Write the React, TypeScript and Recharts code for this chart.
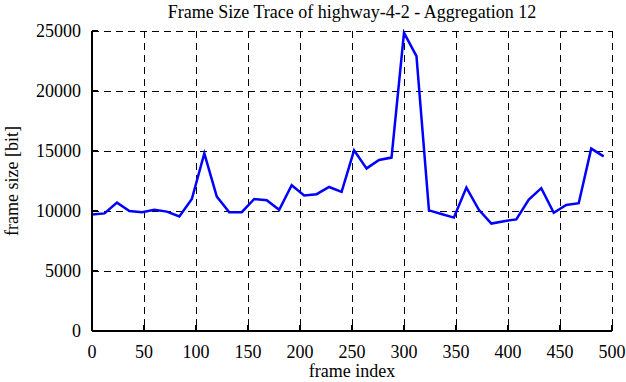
import React from "react";
import { LineChart, Line, XAxis, YAxis, CartesianGrid, Label } from "recharts";

// aggregated frame sizes, one point every 12 frames
const frameIndex = [
  0, 12, 24, 36, 48, 60, 72, 84, 96, 108, 120, 132, 144, 156, 168, 180, 192, 204, 216, 228, 240,
  252, 264, 276, 288, 300, 312, 324, 336, 348, 360, 372, 384, 396, 408, 420, 432, 444, 456, 468, 480, 492,
];
const frameSize = [
  9700, 9800, 10700, 10000, 9900, 10100, 9950, 9550, 11000, 14800, 11200, 9900, 9900, 11000, 10900, 10100,
  12150, 11300, 11400, 12000, 11600, 15050, 13550, 14250, 14450, 24850, 22900, 10050, 9750, 9450, 11950,
  10100, 8950, 9150, 9300, 10950, 11900, 9850, 10500, 10650, 15200, 14550,
];
const xTicks = [0, 50, 100, 150, 200, 250, 300, 350, 400, 450, 500];
const yTicks = [0, 5000, 10000, 15000, 20000, 25000];

const data = frameIndex.map((x, i) => ({ x, size: frameSize[i] }));

const FONT = '"Liberation Serif", "Times New Roman", serif';
const tickStyle = { fill: "#000", fontSize: 18, fontFamily: FONT };
const lineStyle = { stroke: "#000", strokeWidth: 2 };

export default function App() {
  return (
    <div style={{ position: "absolute", left: 0, top: 0, width: 626, height: 382, background: "#fff" }}>
      <div
        style={{
          position: "absolute",
          left: 92,
          width: 520,
          top: 0,
          textAlign: "center",
          fontFamily: FONT,
          fontSize: 18,
          lineHeight: "24px",
        }}
      >
        Frame Size Trace of highway-4-2 - Aggregation 12
      </div>
      <LineChart width={626} height={382} data={data} margin={{ top: 31, right: 14, left: 0, bottom: 0 }}>
        <CartesianGrid stroke="#000" strokeDasharray="7 5" strokeWidth={1} shapeRendering="crispEdges" />
        <XAxis
          dataKey="x"
          type="number"
          domain={[0, 500]}
          ticks={xTicks}
          interval={0}
          height={51}
          tickSize={-6}
          tickMargin={20}
          axisLine={lineStyle}
          tickLine={lineStyle}
          tick={tickStyle}
        >
          <Label value="frame index" position="insideBottom" offset={5} style={{ fill: "#000", fontSize: 18, fontFamily: FONT }} />
        </XAxis>
        <XAxis
          xAxisId="top"
          orientation="top"
          type="number"
          domain={[0, 500]}
          ticks={xTicks}
          interval={0}
          height={0}
          tickSize={-6}
          axisLine={lineStyle}
          tickLine={lineStyle}
          tick={false}
        />
        <YAxis
          domain={[0, 25000]}
          ticks={yTicks}
          interval={0}
          width={92}
          tickSize={-6}
          tickMargin={17}
          axisLine={lineStyle}
          tickLine={lineStyle}
          tick={tickStyle}
        >
          <Label
            value="frame size [bit]"
            angle={-90}
            position="insideLeft"
            offset={12}
            style={{ fill: "#000", fontSize: 18, fontFamily: FONT, textAnchor: "middle" }}
          />
        </YAxis>
        <YAxis
          yAxisId="right"
          orientation="right"
          domain={[0, 25000]}
          ticks={yTicks}
          interval={0}
          width={0}
          tickSize={-6}
          axisLine={lineStyle}
          tickLine={lineStyle}
          tick={false}
        />
        <Line
          type="linear"
          dataKey="size"
          stroke="#0000ff"
          strokeWidth={2.5}
          dot={false}
          isAnimationActive={false}
        />
      </LineChart>
    </div>
  );
}
